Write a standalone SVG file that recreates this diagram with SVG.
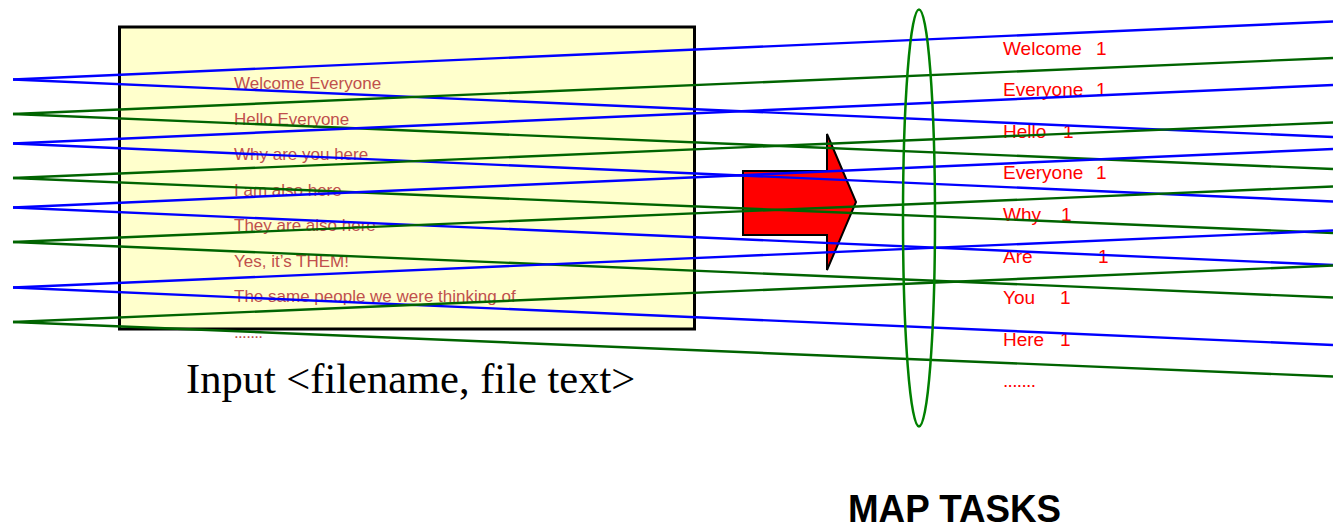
<svg xmlns="http://www.w3.org/2000/svg" width="1333" height="531" viewBox="0 0 1333 531">
  <defs>
    <style>
      .in { font-family: "Liberation Sans", Arial, sans-serif; font-size: 17px; fill: #C0504D; }
      .out { font-family: "Liberation Sans", Arial, sans-serif; font-size: 19px; fill: #FF0000; }
      .blue { stroke: #0000FF; stroke-width: 2.4; fill: none; }
      .green { stroke: #006400; stroke-width: 2.4; fill: none; }
    </style>
  </defs>
  <rect width="1333" height="531" fill="#FFFFFF"/>

  <!-- input file box -->
  <g id="input-file">
    <rect x="119.5" y="27" width="575" height="302" fill="#FFFFCC" stroke="#000000" stroke-width="3"/>
    <text class="in" x="234" y="89">Welcome Everyone</text>
    <text class="in" x="234" y="125">Hello Everyone</text>
    <text class="in" x="234" y="160">Why are you here</text>
    <text class="in" x="234" y="196">I am also here</text>
    <text class="in" x="234" y="231">They are also here</text>
    <text class="in" x="234" y="267">Yes, it’s THEM!</text>
    <text class="in" x="234" y="302">The same people we were thinking of</text>
    <text class="in" x="234" y="338" textLength="29">.......</text>
  </g>

  <g id="input-label">
    <text x="186" y="393" font-family="'Liberation Serif', 'Times New Roman', serif" font-size="42.5" fill="#000000">Input &lt;filename, file text&gt;</text>
  </g>

  <!-- block arrow -->
  <g id="arrow">
    <polygon points="743,171 827,171 827,134 856,202 827,270 827,235 743,235" fill="#FF0000" stroke="#000000" stroke-width="2" stroke-linejoin="miter"/>
  </g>

  <!-- map output pairs -->
  <g id="map-output">
    <text class="out" x="1003" y="54.5">Welcome<tspan x="1096">1</tspan></text>
    <text class="out" x="1003" y="96">Everyone<tspan x="1096">1</tspan></text>
    <text class="out" x="1003" y="138">Hello<tspan x="1063">1</tspan></text>
    <text class="out" x="1003" y="179">Everyone<tspan x="1096">1</tspan></text>
    <text class="out" x="1003" y="221">Why<tspan x="1061">1</tspan></text>
    <text class="out" x="1003" y="262.5">Are<tspan x="1098">1</tspan></text>
    <text class="out" x="1003" y="304">You<tspan x="1060">1</tspan></text>
    <text class="out" x="1003" y="346">Here<tspan x="1060">1</tspan></text>
    <text class="out" x="1003" y="387" textLength="33">.......</text>
  </g>

  <!-- fan-out connectors -->
  <g id="connectors">
    <line class="blue" x1="13" y1="79.5" x2="1333" y2="21.5"/>
    <line class="blue" x1="13" y1="79.5" x2="1333" y2="137"/>
    <line class="green" x1="13" y1="114" x2="1333" y2="58"/>
    <line class="green" x1="13" y1="114" x2="1333" y2="169"/>
    <line class="blue" x1="13" y1="143.5" x2="1333" y2="85"/>
    <line class="blue" x1="13" y1="143.5" x2="1333" y2="201.5"/>
    <line class="green" x1="13" y1="178" x2="1333" y2="122.5"/>
    <line class="green" x1="13" y1="178" x2="1333" y2="233"/>
    <line class="blue" x1="13" y1="207.5" x2="1333" y2="149"/>
    <line class="blue" x1="13" y1="207.5" x2="1333" y2="265"/>
    <line class="green" x1="13" y1="242" x2="1333" y2="186.5"/>
    <line class="green" x1="13" y1="242" x2="1333" y2="297.5"/>
    <line class="blue" x1="13" y1="287.5" x2="1333" y2="230.5"/>
    <line class="blue" x1="13" y1="287.5" x2="1333" y2="345"/>
    <line class="green" x1="13" y1="322" x2="1333" y2="265.5"/>
    <line class="green" x1="13" y1="322" x2="1333" y2="376.5"/>
  </g>

  <!-- map stage boundary -->
  <g id="map-stage">
    <ellipse cx="919" cy="218" rx="16" ry="208.5" fill="none" stroke="#008000" stroke-width="2.5"/>
  </g>

  <g id="map-tasks-label">
    <text x="848" y="522" font-family="'Liberation Sans', Arial, sans-serif" font-weight="bold" font-size="39" fill="#000000" textLength="213" lengthAdjust="spacingAndGlyphs">MAP TASKS</text>
  </g>
</svg>
